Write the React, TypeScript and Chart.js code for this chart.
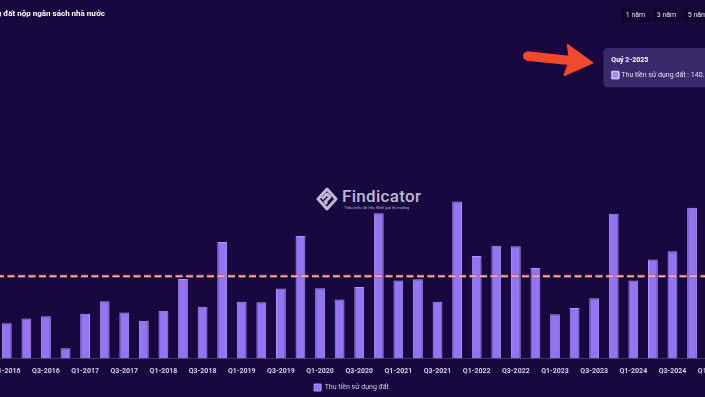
import React, { useEffect, useRef } from "react";
import { Chart, registerables } from "chart.js";

Chart.register(...registerables);

const chartTitle = "Thu tiền sử dụng đất nộp ngân sách nhà nước";
const seriesLabel = "Thu tiền sử dụng đất";
const rangeButtons = ["1 năm", "3 năm", "5 năm"];
const watermarkName = "Findicator";
const watermarkTagline = "Thấu hiểu dữ liệu, Định giá thị trường";

const categories = [
  "Q1-2016", "Q2-2016", "Q3-2016", "Q4-2016",
  "Q1-2017", "Q2-2017", "Q3-2017", "Q4-2017",
  "Q1-2018", "Q2-2018", "Q3-2018", "Q4-2018",
  "Q1-2019", "Q2-2019", "Q3-2019", "Q4-2019",
  "Q1-2020", "Q2-2020", "Q3-2020", "Q4-2020",
  "Q1-2021", "Q2-2021", "Q3-2021", "Q4-2021",
  "Q1-2022", "Q2-2022", "Q3-2022", "Q4-2022",
  "Q1-2023", "Q2-2023", "Q3-2023", "Q4-2023",
  "Q1-2024", "Q2-2024", "Q3-2024", "Q4-2024",
  "Q1-2025", "Q2-2025",
];

// nghìn tỷ đồng
const landRevenue = [
  17.1, 19.4, 20.4, 5.0,
  21.7, 27.7, 22.3, 18.3,
  23.1, 38.5, 25.1, 56.3,
  27.5, 27.2, 33.8, 59.2,
  34.0, 28.6, 34.6, 70.2,
  37.7, 38.3, 27.5, 75.9,
  49.5, 54.5, 54.2, 43.8,
  21.4, 24.4, 29.1, 69.9,
  37.7, 47.9, 51.8, 72.8,
  60.0, 140.5,
];

const averageValue = 39.8;
const yMin = 0;
const yMax = 150;
const highlightedIndex = 37;

const BG = "#180840";
const BAR = "#9474f2";
const BAR_EDGE = "#ae94fb";

function formatValue(v: number): string {
  return Math.round(v * 1000)
    .toString()
    .replace(/\B(?=(\d{3})+(?!\d))/g, ".");
}

const averageLinePlugin = {
  id: "averageLine",
  afterDatasetsDraw(chart: any) {
    const { ctx, chartArea, scales } = chart;
    const y = scales.y.getPixelForValue(averageValue);
    ctx.save();
    ctx.setLineDash([7, 3.5]);
    ctx.strokeStyle = "rgba(255, 60, 60, 0.55)";
    ctx.lineWidth = 3.5;
    ctx.beginPath();
    ctx.moveTo(chartArea.left, y);
    ctx.lineTo(chartArea.right, y);
    ctx.stroke();
    ctx.strokeStyle = "#ffb8b0";
    ctx.lineWidth = 1.6;
    ctx.beginPath();
    ctx.moveTo(chartArea.left, y);
    ctx.lineTo(chartArea.right, y);
    ctx.stroke();
    ctx.restore();
  },
};

export default function App() {
  const canvasRef = useRef<HTMLCanvasElement>(null);

  useEffect(() => {
    if (!canvasRef.current) return;
    const chart = new Chart(canvasRef.current, {
      type: "bar",
      data: {
        labels: categories,
        datasets: [
          {
            label: seriesLabel,
            data: landRevenue,
            backgroundColor: BAR,
            borderColor: BAR_EDGE,
            borderWidth: 1,
            barPercentage: 0.5,
            categoryPercentage: 1,
          },
        ],
      },
      options: {
        animation: false,
        responsive: true,
        maintainAspectRatio: false,
        layout: { padding: { left: 0, right: 5, top: 48, bottom: 0 } },
        scales: {
          x: {
            grid: { display: false, drawTicks: false },
            border: { display: true, color: "rgba(255,255,255,0.18)" },
            ticks: {
              autoSkip: false,
              maxRotation: 0,
              padding: 8,
              color: "#d6d1e6",
              font: { family: "Roboto", size: 7, weight: "bold" },
              callback: (_v: any, i: number) => (i % 2 === 0 ? categories[i] : ""),
            },
          },
          y: {
            display: true,
            min: yMin,
            max: yMax,
            grid: { display: false, drawTicks: false },
            border: { display: false },
            ticks: { display: false },
            afterFit: (scale: any) => {
              scale.width = 35;
            },
          },
        },
        plugins: {
          legend: {
            position: "bottom",
            labels: {
              boxWidth: 7,
              boxHeight: 7,
              padding: 1,
              color: "#d2cce4",
              font: { family: "Roboto", size: 7 },
            },
          },
          tooltip: {
            enabled: true,
            backgroundColor: "#3a2a6b",
            titleColor: "#ffffff",
            bodyColor: "#e4e0f2",
            titleFont: { family: "Roboto", size: 7, weight: "bold" },
            bodyFont: { family: "Roboto", size: 7 },
            titleMarginBottom: 6.4,
            padding: 8,
            cornerRadius: 5,
            caretSize: 5,
            caretPadding: 2,
            boxWidth: 8,
            boxHeight: 8,
            displayColors: true,
            callbacks: {
              title: (items: any[]) =>
                items.length ? items[0].label.replace("Q", "Quý ") : "",
              label: (item: any) => `${seriesLabel} : ${formatValue(item.raw)}`,
              labelColor: () => ({
                borderColor: "#a487fa",
                backgroundColor: "#a487fa",
                borderWidth: 0,
                borderRadius: 1,
              }),
            },
          },
        },
      },
      plugins: [averageLinePlugin],
    } as any);
    chart.tooltip?.setActiveElements(
      [{ datasetIndex: 0, index: highlightedIndex }],
      { x: 0, y: 0 }
    );
    chart.update();
    return () => chart.destroy();
  }, []);

  return (
    <div
      style={{
        position: "fixed",
        left: 0,
        top: 0,
        width: 705,
        height: 397,
        overflow: "hidden",
        background: BG,
        fontFamily: "Roboto, sans-serif",
      }}
    >
      {/* watermark */}
      <div
        style={{
          position: "absolute",
          left: 316,
          top: 187,
          display: "flex",
          alignItems: "center",
          color: "rgba(222,216,238,0.85)",
        }}
      >
        <svg width="22" height="24" viewBox="0 0 22 24">
          <g fill="none" stroke="rgba(222,216,238,0.85)" strokeWidth="3" strokeLinejoin="round">
            <path d="M11 2 L20 12 L11 22 L2 12 Z" />
            <path d="M6 12 L11 7 L14 10 L9 15 L11 17" />
          </g>
        </svg>
        <div style={{ marginLeft: 4, display: "flex", flexDirection: "column" }}>
          <span style={{ fontSize: 17, fontWeight: 500, lineHeight: "17px", letterSpacing: 0.3 }}>
            {watermarkName}
          </span>
          <span style={{ fontSize: 4, lineHeight: "5px", marginLeft: 2 }}>{watermarkTagline}</span>
        </div>
      </div>

      <div
        style={{
          position: "absolute",
          left: -38,
          top: 0,
          width: 784,
          height: 401,
        }}
      >
        <canvas ref={canvasRef} />
      </div>

      {/* title (cropped at the left edge) */}
      <div
        style={{
          position: "absolute",
          right: 600,
          top: 9,
          whiteSpace: "nowrap",
          fontSize: 8,
          lineHeight: "10px",
          fontWeight: 700,
          color: "#ffffff",
        }}
      >
        {chartTitle}
      </div>

      {/* range buttons */}
      <div style={{ position: "absolute", left: 621, top: 8, display: "flex", gap: 2 }}>
        {rangeButtons.map((b) => (
          <div
            key={b}
            style={{
              width: 29,
              height: 14,
              lineHeight: "14px",
              textAlign: "center",
              fontSize: 7,
              color: "#e6e2f2",
              background: "#12042f",
              borderRadius: 3,
              whiteSpace: "nowrap",
            }}
          >
            {b}
          </div>
        ))}
      </div>

      {/* red annotation arrow */}
      <svg
        width="705"
        height="397"
        style={{ position: "absolute", left: 0, top: 0, pointerEvents: "none" }}
      >
        <g transform="translate(527,56) rotate(6)">
          <path
            d="M0,-4 L42,-4 L39,-15.5 L66,0 L39,15.5 L42,4 L0,4 Z"
            fill="#f2492d"
            stroke="#f2492d"
            strokeWidth="1.5"
            strokeLinejoin="round"
          />
          <circle cx="0" cy="0" r="4" fill="#f2492d" />
        </g>
      </svg>
    </div>
  );
}
